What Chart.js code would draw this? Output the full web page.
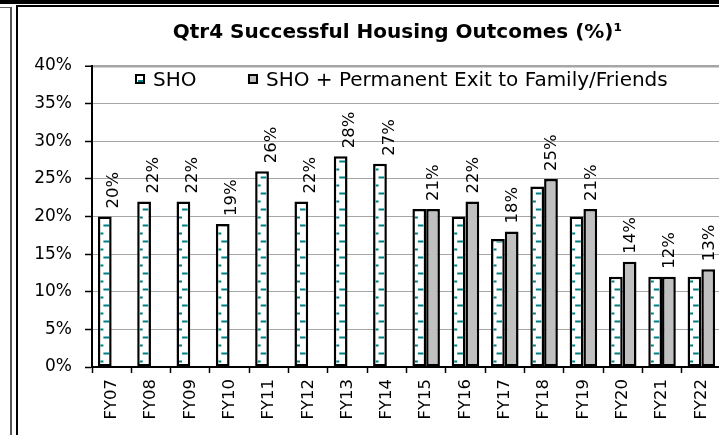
<!DOCTYPE html>
<html><head><meta charset="utf-8">
<script src="https://cdn.jsdelivr.net/npm/chart.js@4.4.1/dist/chart.umd.min.js"></script>
<style>
html,body{margin:0;padding:0;background:#fff;overflow:hidden;width:719px;height:435px;}
#wrap{position:absolute;left:0;top:0;width:730px;height:435px;}
.f{position:absolute;}
</style></head><body>
<div id="wrap"><canvas id="c" width="730" height="435"></canvas></div>
<div class="f" style="left:0;top:0;width:719px;height:4px;background:#000"></div>
<div class="f" style="left:16px;top:5px;width:703px;height:2px;background:#000"></div>
<div class="f" style="left:16px;top:5px;width:2px;height:430px;background:#000"></div>
<div class="f" style="left:0;top:7px;width:11px;height:1px;background:#666"></div>
<div class="f" style="left:10px;top:7px;width:2px;height:428px;background:#555"></div>
<script>
const categories = ['FY07','FY08','FY09','FY10','FY11','FY12','FY13','FY14','FY15','FY16','FY17','FY18','FY19','FY20','FY21','FY22'];
const shoValues = [20,22,22,19,26,22,28,27,21,20,17,24,20,12,12,12];
const shoPlusValues = [null,null,null,null,null,null,null,null,21,22,18,25,21,14,12,13];
const yTicks = [0,5,10,15,20,25,30,35,40];
const seriesLabels = ['SHO','SHO + Permanent Exit to Family/Friends'];
const titleText = 'Qtr4 Successful Housing Outcomes (%)\u00B9';

const FONT = 'DejaVu Sans';
const TEAL = '#008080';

const extrasPlugin = {
  id: 'extras',
  afterLayout(chart) {
    const t = chart.titleBlock;
    if (t) { t.left -= 18; }
  },
  afterDatasetsDraw(chart) {
    const ctx = chart.ctx;
    const m0 = chart.getDatasetMeta(0), m1 = chart.getDatasetMeta(1);
    m0.data.forEach((el) => {
      const bw = 2.5;
      const l = el.x - el.width / 2 + bw, r = el.x + el.width / 2 - bw;
      const top = el.y + bw, base = el.base;
      ctx.save();
      ctx.beginPath(); ctx.rect(l, top, r - l, base - top); ctx.clip();
      ctx.fillStyle = TEAL;
      for (let k = 0; k < 40; k++) {
        const yL = base - 5 - 16 * k, yR = base - 13 - 16 * k;
        ctx.fillRect(l - 0.5, yL - 1, 3.5, 2);
        ctx.fillRect(l + 3, yR - 1, r - l - 3, 2);
      }
      ctx.restore();
    });
    ctx.save();
    ctx.font = '16.5px "' + FONT + '"';
    ctx.fillStyle = '#000';
    ctx.textAlign = 'left';
    ctx.textBaseline = 'middle';
    categories.forEach((c, i) => {
      let v, x, top;
      if (shoPlusValues[i] != null) {
        const el = m1.data[i]; v = shoPlusValues[i]; x = el.x + 1; top = el.y;
      } else {
        const el = m0.data[i]; v = shoValues[i]; x = chart.scales.x.getPixelForValue(i) + 2.5; top = el.y;
      }
      ctx.save(); ctx.translate(x, top - 8); ctx.rotate(-Math.PI / 2);
      ctx.fillText(v + '%', 0, 0); ctx.restore();
    });
    ctx.restore();
  },
  afterDraw(chart) {
    const ctx = chart.ctx, a = chart.chartArea;
    ctx.save();
    ctx.font = '20px "' + FONT + '"';
    ctx.textBaseline = 'middle'; ctx.textAlign = 'left';
    const y = 79;
    let x = a.left + 43;
    seriesLabels.forEach((lab, i) => {
      ctx.fillStyle = i === 0 ? '#fff' : '#c0c0c0';
      ctx.fillRect(x, y - 5, 10, 10);
      ctx.lineWidth = 2; ctx.strokeStyle = '#000';
      ctx.strokeRect(x + 1, y - 4, 8, 8);
      if (i === 0) { ctx.fillStyle = TEAL; ctx.fillRect(x + 3, y + 1, 5, 2); }
      ctx.fillStyle = '#000';
      ctx.fillText(lab, x + 18, y + 1.5);
      x += 18 + ctx.measureText(lab).width + 51.5;
    });
    ctx.restore();
  }
};

new Chart(document.getElementById('c'), {
  type: 'bar',
  data: {
    labels: categories,
    datasets: [
      { label: seriesLabels[0], data: shoValues, backgroundColor: '#ffffff', borderColor: '#000', borderWidth: 2.5, borderSkipped: false },
      { label: seriesLabels[1], data: shoPlusValues, backgroundColor: '#c0c0c0', borderColor: '#000', borderWidth: 2.5, borderSkipped: false }
    ]
  },
  options: {
    responsive: false,
    animation: false,
    devicePixelRatio: 1,
    datasets: { bar: { categoryPercentage: 0.7, barPercentage: 1.0 } },
    layout: { padding: { left: 30, right: 9, top: 0, bottom: 8 } },
    plugins: {
      legend: { display: false },
      tooltip: { enabled: false },
      title: {
        display: true, text: titleText, color: '#000', fullSize: false,
        font: { family: FONT, size: 20, weight: 'bold', lineHeight: 1.2 },
        padding: { top: 21, bottom: 21 }
      }
    },
    scales: {
      x: {
        grid: { offset: true, drawOnChartArea: false, tickLength: 6, tickColor: '#000', tickWidth: 1.5 },
        border: { color: '#000', width: 2 },
        ticks: { minRotation: 90, maxRotation: 90, autoSkip: false, padding: 6, color: '#000', font: { family: FONT, size: 16.5 } },
        afterFit(s) { s.height = 60; }
      },
      y: {
        min: 0, max: 40,
        afterBuildTicks(s) { s.ticks = yTicks.map(v => ({ value: v })); },
        ticks: { color: '#000', padding: 13, font: { family: FONT, size: 17 }, callback: v => v + '%' },
        grid: { color: '#a6a6a6', tickColor: '#000', tickLength: 7, tickWidth: 1.5, lineWidth: c => (c.tick && c.tick.value === 40 ? 2.5 : 1) },
        border: { color: '#000', width: 2 },
        afterFit(s) { s.width = 62; }
      }
    }
  },
  plugins: [extrasPlugin]
});
</script>
</body></html>
